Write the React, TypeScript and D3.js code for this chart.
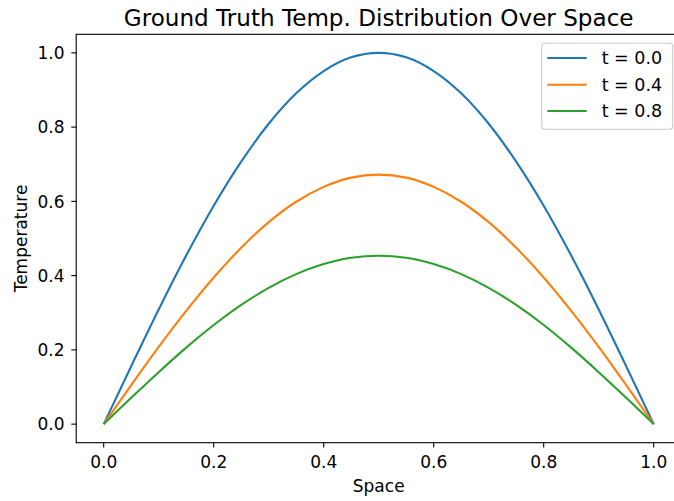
import React from "react";
import * as d3 from "d3";

const spaceX = [0, 0.05, 0.1, 0.15, 0.2, 0.25, 0.3, 0.35, 0.4, 0.45, 0.5, 0.55, 0.6, 0.65, 0.7, 0.75, 0.8, 0.85, 0.9, 0.95, 1.0];
const tempT00 = [0, 0.156, 0.309, 0.454, 0.588, 0.707, 0.809, 0.891, 0.951, 0.988, 1.0, 0.988, 0.951, 0.891, 0.809, 0.707, 0.588, 0.454, 0.309, 0.156, 0];
const tempT04 = [0, 0.105, 0.208, 0.305, 0.395, 0.475, 0.544, 0.599, 0.639, 0.664, 0.672, 0.664, 0.639, 0.599, 0.544, 0.475, 0.395, 0.305, 0.208, 0.105, 0];
const tempT08 = [0, 0.071, 0.140, 0.206, 0.267, 0.321, 0.367, 0.404, 0.431, 0.448, 0.4535, 0.448, 0.431, 0.404, 0.367, 0.321, 0.267, 0.206, 0.140, 0.071, 0];
const seriesLabels = ["t = 0.0", "t = 0.4", "t = 0.8"];
const seriesColors = ["#1f77b4", "#ff7f0e", "#2ca02c"];
const xTicks = [0, 0.2, 0.4, 0.6, 0.8, 1.0];
const yTicks = [0, 0.2, 0.4, 0.6, 0.8, 1.0];

const W = 674, H = 501;
const left = 76.2, right = 681.2, top = 34.3, bottom = 442.7;
const FONT = "DejaVu Sans, sans-serif";
const FS = 17;

export default function App() {
  const x = d3.scaleLinear().domain([-0.05, 1.05]).range([left, right]);
  const y = d3.scaleLinear().domain([-0.05, 1.05]).range([bottom, top]);
  const series = [tempT00, tempT04, tempT08];
  const line = d3
    .line<[number, number]>()
    .x((d) => x(d[0]))
    .y((d) => y(d[1]))
    .curve(d3.curveMonotoneX);

  const legX = 541.7, legY = 43.3, legW = 131, legH = 86;
  const rowY = [58, 84.7, 111];

  return (
    <svg width={W} height={H} style={{ position: "fixed", left: 0, top: 0 }} fontFamily={FONT}>
      <rect x={0} y={0} width={W} height={H} fill="white" />
      <defs>
        <clipPath id="plot">
          <rect x={left} y={top} width={right - left} height={bottom - top} />
        </clipPath>
      </defs>
      {series.map((vals, i) => (
        <path
          key={i}
          d={line(spaceX.map((xv, j) => [xv, vals[j]] as [number, number])) || ""}
          fill="none"
          stroke={seriesColors[i]}
          strokeWidth={2.1}
          clipPath="url(#plot)"
        />
      ))}
      <rect x={left} y={top} width={right - left} height={bottom - top} fill="none" stroke="#000" strokeWidth={1.1} />
      {xTicks.map((t) => (
        <g key={"x" + t}>
          <line x1={x(t)} x2={x(t)} y1={bottom} y2={bottom + 4.9} stroke="#000" strokeWidth={1.1} />
          <text x={x(t)} y={468.3} textAnchor="middle" fontSize={FS} fill="#000">
            {t.toFixed(1)}
          </text>
        </g>
      ))}
      {yTicks.map((t) => (
        <g key={"y" + t}>
          <line x1={left - 4.9} x2={left} y1={y(t)} y2={y(t)} stroke="#000" strokeWidth={1.1} />
          <text x={64.5} y={y(t) + 6.3} textAnchor="end" fontSize={FS} fill="#000">
            {t.toFixed(1)}
          </text>
        </g>
      ))}
      <text x={(left + right) / 2} y={492} textAnchor="middle" fontSize={FS} fill="#000">
        Space
      </text>
      <text
        transform={`translate(27,${(top + bottom) / 2}) rotate(-90)`}
        textAnchor="middle"
        fontSize={FS}
        fill="#000"
      >
        Temperature
      </text>
      <text x={(left + right) / 2} y={26} textAnchor="middle" fontSize={23.1} fill="#000">
        Ground Truth Temp. Distribution Over Space
      </text>
      <rect x={legX} y={legY} width={legW} height={legH} rx={3} ry={3} fill="white" fillOpacity={0.8} stroke="#cccccc" strokeWidth={1.1} />
      {seriesLabels.map((lab, i) => (
        <g key={lab}>
          <line x1={547.3} x2={586.7} y1={rowY[i]} y2={rowY[i]} stroke={seriesColors[i]} strokeWidth={2.1} />
          <text x={601.7} y={rowY[i] + 6.3} fontSize={17.5} fill="#000">
            {lab}
          </text>
        </g>
      ))}
    </svg>
  );
}
